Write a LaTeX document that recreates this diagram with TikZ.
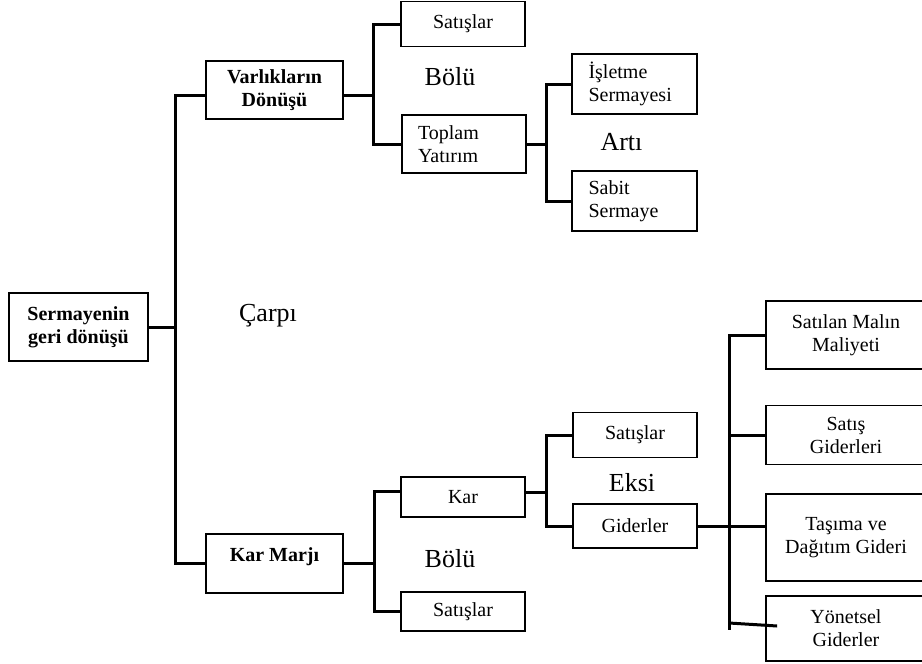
\documentclass[tikz,border=0pt]{standalone}
\usepackage{fontspec}
\setmainfont{Liberation Serif}
\tikzset{
  box/.style={draw, line width=1.8pt, minimum width=124pt, inner sep=0pt,
    align=center, font=\fontsize{20}{23}\selectfont},
  bbox/.style={box, minimum width=137pt, font=\fontsize{20}{23}\selectfont\bfseries},
  lbox/.style={box, minimum width=125pt, text width=92pt, align=left},
  rbox/.style={box, minimum width=160pt},
  op/.style={anchor=base, inner sep=0pt, font=\fontsize{26}{30}\selectfont},
  link/.style={line width=3pt},
}
\begin{document}
\begin{tikzpicture}[x=1pt,y=-1pt]
\useasboundingbox (0,0) rectangle (922,664);
\clip (0,0) rectangle (922,664);

\node[bbox, minimum width=139pt, minimum height=68pt] (roi) at (78.5,327) {Sermayenin\\geri dönüşü};
\node[bbox, minimum height=58pt] (varlik) at (274.5,90) {Varlıkların\\Dönüşü};
\node[bbox, minimum height=59pt, text depth=18pt] (marj) at (274.5,563.5) {Kar Marjı};

\node[box, minimum height=45pt] (satis1) at (463,24) {Satışlar};
\node[lbox, minimum width=124pt, minimum height=58pt] (toplam) at (464,144) {Toplam\\Yatırım};
\node[lbox, minimum height=60pt] (isletme) at (634.5,84) {İşletme\\Sermayesi};
\node[lbox, minimum height=60pt] (sabit) at (634.5,201) {Sabit\\Sermaye};

\node[box, minimum height=40pt] (kar) at (463,497) {Kar};
\node[box, minimum height=39pt] (satis2) at (463,611.5) {Satışlar};
\node[box, minimum height=45pt] (satis3) at (635,435) {Satışlar};
\node[box, minimum height=44pt] (gider) at (635,526) {Giderler};

\node[rbox, minimum height=68pt] (maliyet) at (846,335) {Satılan Malın\\Maliyeti};
\node[rbox, minimum height=59pt] (satisgid) at (846,435) {Satış\\Giderleri};
\node[rbox, minimum height=87pt] (tasima) at (846,537.5) {Taşıma ve\\Dağıtım Gideri};
\node[rbox, minimum height=65pt] (yonetsel) at (846,628.5) {Yönetsel\\Giderler};

\node[op] (bolu1) at (450,85) {Bölü};
\node[op] (arti) at (621.5,150) {Artı};
\node[op] (carpi) at (268,321) {Çarpı};
\node[op] (eksi) at (632,491) {Eksi};
\node[op] (bolu2) at (450,567) {Bölü};

\coordinate (j0) at (175,0);
\coordinate (j1) at (373,0);
\coordinate (j2) at (546,0);
\coordinate (j3) at (374,0);
\coordinate (j4) at (729,0);
\coordinate (j4end) at (729,630);
\coordinate (ystub) at (729,623);

\draw[link] (roi.east) -- (roi.east -| j0);
\draw[link] ([yshift=-5pt]varlik.west) -| (j0 |- marj.west) -- (marj.west);

\draw[link] ([yshift=-5pt]varlik.east) -- ([yshift=-5pt]varlik.east -| j1);
\draw[link] (satis1.west) -| (j1 |- toplam.west) -- (toplam.west);
\draw[link] (toplam.east) -- (toplam.east -| j2);
\draw[link] (isletme.west) -| (j2 |- sabit.west) -- (sabit.west);

\draw[link] (marj.east) -- (marj.east -| j3);
\draw[link] ([yshift=5.5pt]kar.west) -| (j3 |- satis2.west) -- (satis2.west);
\draw[link] ([yshift=5pt]kar.east) -- ([yshift=5pt]kar.east -| j2);
\draw[link] (satis3.west) -| (j2 |- gider.west) -- (gider.west);

\draw[link] (gider.east) -- (gider.east -| tasima.west);
\draw[link] (maliyet.west) -| (j4end);
\draw[link] (satisgid.west) -- (satisgid.west -| j4);
\draw[link] (ystub) -- ([xshift=12pt,yshift=2.5pt]yonetsel.west);
\end{tikzpicture}
\end{document}
